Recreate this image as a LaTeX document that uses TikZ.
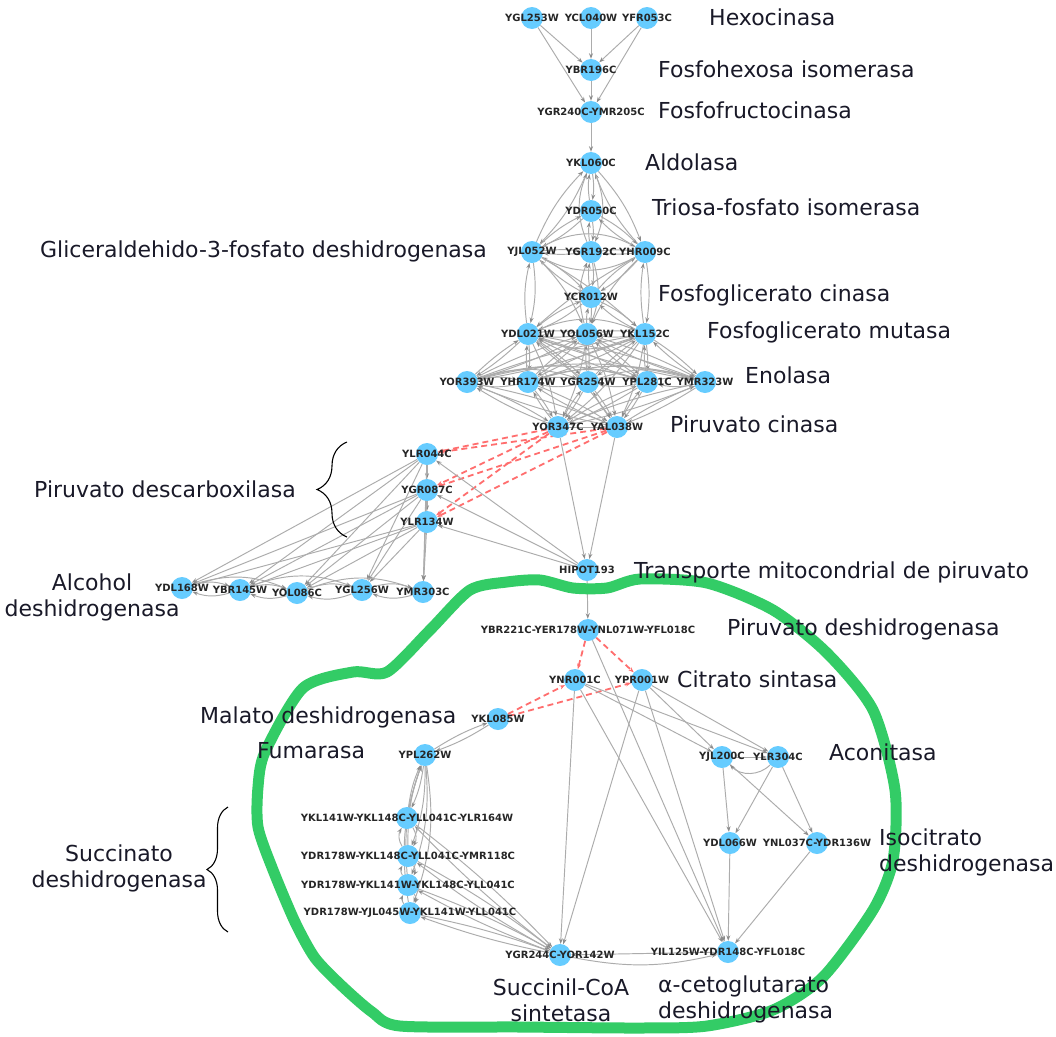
\documentclass[tikz,border=0pt]{standalone}
\usepackage{fontspec}
\setmainfont{DejaVu Sans}
\usetikzlibrary{arrows.meta,decorations.pathreplacing}
\definecolor{nodeblue}{RGB}{102,204,255}
\definecolor{edgegray}{RGB}{172,172,172}
\definecolor{tipgray}{RGB}{140,140,140}
\definecolor{edgered}{RGB}{255,110,110}
\definecolor{mito}{RGB}{51,204,102}
\definecolor{txt}{RGB}{25,25,40}
\pgfdeclarelayer{bg}
\pgfdeclarelayer{edges}
\pgfsetlayers{bg,edges,main}
\newcommand\genenode[3]{\node[gene, label={[glab]center:#3}] (#1) at (#2) {};}

\begin{document}
\begin{tikzpicture}[x=1pt,y=-1pt,
  gene/.style={circle, fill=nodeblue, minimum size=22pt, inner sep=0pt},
  glab/.style={font=\fontsize{10}{11}\selectfont\bfseries, text=black!85, inner sep=0pt},
  enz/.style={font=\fontsize{22}{26}\selectfont, text=txt, inner sep=0pt, text height=15pt, text depth=4pt},
  ed/.style={draw=edgegray, line width=0.95pt, -{Stealth[length=5.5pt,width=4pt,color=tipgray]}},
  edr/.style={draw=edgered, line width=1.8pt, dash pattern=on 6pt off 4pt, -{Stealth[length=5.5pt,width=4pt]}},
  brc/.style={draw=black, line width=1.1pt, decorate}
]
\useasboundingbox (0,0) rectangle (1056,1036);
\begin{pgfonlayer}{bg}
\fill[white] (0,0) rectangle (1056,1036);
\end{pgfonlayer}

% mitochondrion outline
\draw[mito, line width=11pt, line join=round]
  plot[smooth cycle, tension=0.45] coordinates {
  (303,688) (353,672) (387,672) (430,630) (470,590) (507,582) (540,580)
  (573,588) (607,588) (640,579) (707,583) (773,610) (827,653) (873,710)
  (895,790) (893,860) (873,910) (823,977) (773,1010) (707,1026) (640,1028)
  (520,1027) (400,1026) (372,1012) (342,986) (315,958) (295,922) (273,870)
  (258,827) (258,787) (265,752)};

% glycolysis
\genenode{g1}{532,18}{YGL253W}
\genenode{g2}{591,18}{YCL040W}
\genenode{g3}{647,18}{YFR053C}
\genenode{pgi}{591,70}{YBR196C}
\genenode{pfk}{591,112}{YGR240C-YMR205C}
\genenode{ald}{591,163}{YKL060C}
\genenode{tpi}{591,211}{YDR050C}
\genenode{gap1}{532,252}{YJL052W}
\genenode{gap2}{591,252}{YGR192C}
\genenode{gap3}{645,252}{YHR009C}
\genenode{pgk}{591,297}{YCR012W}
\genenode{pgm1}{528,334}{YDL021W}
\genenode{pgm2}{587,334}{YOL056W}
\genenode{pgm3}{645,334}{YKL152C}
\genenode{eno1}{467,382}{YOR393W}
\genenode{eno2}{528,382}{YHR174W}
\genenode{eno3}{588,382}{YGR254W}
\genenode{eno4}{647,382}{YPL281C}
\genenode{eno5}{705,382}{YMR323W}
\genenode{pk1}{558,427}{YOR347C}
\genenode{pk2}{617,427}{YAL038W}
% fermentation
\genenode{pdc1}{427,454}{YLR044C}
\genenode{pdc2}{427,490}{YGR087C}
\genenode{pdc3}{427,522}{YLR134W}
\genenode{adh1}{182,588}{YDL168W}
\genenode{adh2}{240,590}{YBR145W}
\genenode{adh3}{297,593}{YOL086C}
\genenode{adh4}{362,590}{YGL256W}
\genenode{adh5}{423,592}{YMR303C}
% mitochondrial transport and TCA cycle
\genenode{hip}{587,570}{HIPOT193}
\genenode{pdh}{588,630}{YBR221C-YER178W-YNL071W-YFL018C}
\genenode{cs1}{575,680}{YNR001C}
\genenode{cs2}{642,680}{YPR001W}
\genenode{mdh}{498,719}{YKL085W}
\genenode{fum}{425,755}{YPL262W}
\genenode{sdh1}{407,818}{YKL141W-YKL148C-YLL041C-YLR164W}
\genenode{sdh2}{408,856}{YDR178W-YKL148C-YLL041C-YMR118C}
\genenode{sdh3}{408,885}{YDR178W-YKL141W-YKL148C-YLL041C}
\genenode{sdh4}{410,913}{YDR178W-YJL045W-YKL141W-YLL041C}
\genenode{aco1}{722,757}{YJL200C}
\genenode{aco2}{778,757}{YLR304C}
\genenode{idh1}{730,843}{YDL066W}
\genenode{idh2}{817,843}{YNL037C-YDR136W}
\genenode{kgd}{728,952}{YIL125W-YDR148C-YFL018C}
\genenode{scs}{560,955}{YGR244C-YOR142W}

\begin{pgfonlayer}{edges}
% upper glycolysis
\foreach \a/\b in {g1/pgi,g2/pgi,g3/pgi,g1/pfk,g3/pfk,pgi/pfk,pfk/ald}
  \draw[ed] (\a) -- (\b);
% reversible steps: paired arcs
\foreach \a/\b/\k in {ald/tpi/8, ald/gap1/10, ald/gap3/10, ald/gap2/22,
    tpi/gap1/8, tpi/gap2/8, tpi/gap3/8, gap1/gap2/6, gap2/gap3/6, gap1/gap3/28,
    gap1/pgk/8, gap2/pgk/8, gap3/pgk/8, gap1/pgm1/10, gap3/pgm3/8, gap2/pgm2/18,
    pgk/pgm1/8, pgk/pgm2/8, pgk/pgm3/8, pgm1/pgm2/8, pgm2/pgm3/8, pgm1/pgm3/22}
  {\draw[ed] (\a) to[bend left=\k] (\b); \draw[ed] (\b) to[bend left=\k] (\a);}
\foreach \a/\b/\k in {gap1/pgm2/10, gap3/pgm2/-10, gap1/pgm3/6, gap3/pgm1/-6}
  \draw[ed] (\a) to[bend left=\k] (\b);
% mutase to enolase
\foreach \i in {1,2,3}
  \foreach \j in {1,...,5}
    {\draw[ed] (pgm\i) to[bend left=5] (eno\j); \draw[ed] (eno\j) to[bend left=5] (pgm\i);}
\foreach \i/\j in {1/2,2/3,3/4,4/5}
  {\draw[ed] (eno\i) to[bend left=12] (eno\j); \draw[ed] (eno\j) to[bend left=12] (eno\i);}
\foreach \i/\j/\k in {1/3/18,2/4/18,3/5/18,1/4/16,2/5/16,1/5/14}
  \draw[ed] (eno\i) to[bend left=\k] (eno\j);
% enolase and mutase to pyruvate kinase
\foreach \i in {1,...,5}
  \foreach \j in {1,2}
    {\draw[ed] (eno\i) to[bend left=5] (pk\j); \draw[ed] (pk\j) to[bend left=5] (eno\i);}
\foreach \i in {1,2,3}
  \foreach \j in {1,2}
    \draw[ed] (pgm\i) to[bend left=8] (pk\j);
\draw[ed] (pk1) -- (pk2);
% pyruvate branches
\foreach \i in {1,2}
  {\draw[ed] (pk\i) -- (hip);
   \foreach \j in {1,2,3} \draw[edr] (pk\i) -- (pdc\j);}
\foreach \j in {1,2,3} \draw[ed] (hip) -- (pdc\j);
\draw[ed] (pdc1) -- (pdc2);
\draw[ed] (pdc2) -- (pdc3);
\foreach \i in {1,2,3}
  \foreach \j in {1,...,5}
    \draw[ed] (pdc\i) -- (adh\j);
\foreach \i/\j in {1/2,2/3,3/4,4/5}
  {\draw[ed] (adh\i) to[bend left=18] (adh\j); \draw[ed] (adh\j) to[bend left=18] (adh\i);}
\foreach \i/\j in {1/3,2/4,3/5}
  \draw[ed] (adh\i) to[bend left=20] (adh\j);
% TCA cycle
\draw[ed] (hip) -- (pdh);
\draw[edr] (pdh) -- (cs1);
\draw[edr] (pdh) -- (cs2);
\draw[ed] (pdh) -- (kgd);
\draw[edr] (mdh) -- (cs1);
\draw[edr] (mdh) -- (cs2);
\draw[ed] (fum) to[bend left=6] (mdh);
\draw[ed] (mdh) to[bend left=6] (fum);
\foreach \a/\b in {cs1/scs,cs2/scs,cs1/kgd,cs2/kgd,cs1/aco1,cs1/aco2,cs2/aco1,cs2/aco2,
    aco1/aco2,aco1/idh1,aco1/idh2,aco2/idh1,aco2/idh2,idh1/kgd,idh2/kgd,kgd/scs}
  \draw[ed] (\a) -- (\b);
\draw[ed] (aco2) to[bend left=45] (aco1);
\draw[ed] (scs) to[bend left=-12] (kgd);
\foreach \i/\k in {1/8,2/10,3/12,4/14}
  {\draw[ed] (fum) to[bend left=\k] (sdh\i); \draw[ed] (sdh\i) to[bend left=\k] (fum);
   \draw[ed] (sdh\i) to[bend left=4] (scs); \draw[ed] (scs) to[bend left=4] (sdh\i);}
\foreach \i/\j in {1/2,2/3,3/4}
  {\draw[ed] (sdh\i) to[bend left=30] (sdh\j); \draw[ed] (sdh\j) to[bend left=30] (sdh\i);}
\end{pgfonlayer}

% braces
\draw[brc, decoration={brace, amplitude=30pt}] (347,537) -- (347,442);
\draw[brc, decoration={brace, amplitude=21pt}] (228,932) -- (228,807);

% enzyme names
\node[enz, anchor=west] (lhk) at (709,20) {Hexocinasa};
\node[enz, anchor=west] (lpgi) at (658,72) {Fosfohexosa isomerasa};
\node[enz, anchor=west] (lpfk) at (658,113) {Fosfofructocinasa};
\node[enz, anchor=west] (lald) at (645,165) {Aldolasa};
\node[enz, anchor=west] (ltpi) at (652,210) {Triosa-fosfato isomerasa};
\node[enz, anchor=east] (lgap) at (487,252) {Gliceraldehido-3-fosfato deshidrogenasa};
\node[enz, anchor=west] (lpgk) at (658,296) {Fosfoglicerato cinasa};
\node[enz, anchor=west] (lpgm) at (707,333) {Fosfoglicerato mutasa};
\node[enz, anchor=west] (leno) at (745,378) {Enolasa};
\node[enz, anchor=west] (lpk) at (670,427) {Piruvato cinasa};
\node[enz, anchor=west] (lpdc) at (34,492) {Piruvato descarboxilasa};
\node[enz, align=center] (ladh) at (92,611) {Alcohol\\deshidrogenasa};
\node[enz, anchor=west] (lhip) at (634,573) {Transporte mitocondrial de piruvato};
\node[enz, anchor=west] (lpdh) at (727,630) {Piruvato deshidrogenasa};
\node[enz, anchor=west] (lcs) at (677,682) {Citrato sintasa};
\node[enz, anchor=west] (lmdh) at (200,718) {Malato deshidrogenasa};
\node[enz, anchor=west] (lfum) at (257,753) {Fumarasa};
\node[enz, anchor=west] (laco) at (829,755) {Aconitasa};
\node[enz, align=left, anchor=west] (lidh) at (879,866) {Isocitrato\\deshidrogenasa};
\node[enz, align=center] (lsdh) at (119,882) {Succinato\\deshidrogenasa};
\node[enz, align=center] (lscs) at (561,1016) {Succinil-CoA\\sintetasa};
\node[enz, align=left, anchor=west] (lkgd) at (658,1013) {α-cetoglutarato\\deshidrogenasa};
\end{tikzpicture}
\end{document}
